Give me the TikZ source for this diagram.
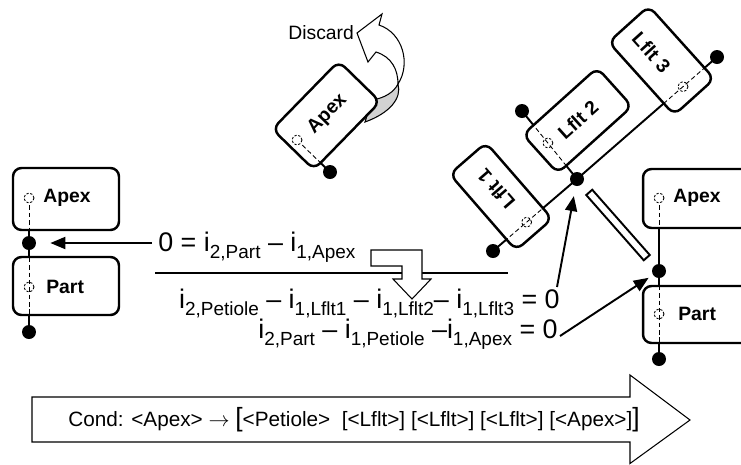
\documentclass[tikz,border=0pt]{standalone}
\usepackage{fontspec}
\setmainfont{Liberation Sans}
\usetikzlibrary{arrows.meta,calc}
\newcommand\eqsub[1]{\raisebox{-0.5ex}{\fontsize{10.8}{12}\selectfont #1}}
\begin{document}
\begin{tikzpicture}[x=0.02cm,y=-0.02cm,
  box/.style={draw, line width=1.4pt, rounded corners=0.17cm, fill=white, inner sep=0pt},
  lbl/.style={font=\fontsize{11}{13}\selectfont\bfseries, inner sep=0pt},
  jdot/.style={circle, fill=black, inner sep=0pt, minimum size=0.28cm},
  port/.style={circle, draw, fill=white, dash pattern=on 1.3pt off 1pt, line width=0.5pt, inner sep=0pt, minimum size=0.2cm},
  portn/.style={port, fill=none},
  conn/.style={line width=1.1pt},
  dsh/.style={line width=0.5pt, dash pattern=on 2.6pt off 1.6pt},
  arr/.style={line width=1.1pt, -{Triangle[length=0.3cm,width=0.24cm]}},
  eq/.style={font=\fontsize{15.3}{18}\selectfont, inner sep=0pt},
  thin/.style={line width=0.6pt},
]
\useasboundingbox (0,0) rectangle (741,464);
\clip (0,0) rectangle (741,464);

% ---------- coordinates
\coordinate (cAL) at (29,198);
\coordinate (dAL) at (29,243);
\coordinate (cPL) at (29,287);
\coordinate (dPL) at (29,332);
\coordinate (cAR) at (659,198);
\coordinate (D) at (659,271);
\coordinate (cPR) at (659,314);
\coordinate (dPR) at (659,359);
\coordinate (J) at (577,179);
\coordinate (d1) at (493,251);
\coordinate (c1) at ($(J)!0.6!(d1)$);
\coordinate (d2) at (522,111);
\coordinate (c2) at ($(d2)!0.47!(J)$);
\coordinate (d3) at (717,57);
\coordinate (c3) at ($(J)!0.757!(d3)$);
\coordinate (cX) at (297,140);
\coordinate (dX) at (330,172);

% ---------- solid connectors (under boxes)
\draw[conn] (cAL) -- (dPL);
\draw[conn] (cAR) -- (dPR);
\draw[conn] (d1) -- (J) -- (d3);
\draw[conn] (d2) -- (J);
\draw[conn] (cX) -- (dX);

% ---------- discard arrow
\draw[thin, fill=gray!35] (398,84) .. controls (402,98) and (390,113) .. (365,122) -- (372,100) .. controls (385,98) and (394,92) .. (398,84) -- cycle;
\draw[thin, fill=white] (357,33) -- (382,14) -- (379,25) .. controls (403,33) and (411,64) .. (398,84) .. controls (398,70) and (392,57) .. (376,52) -- (368,62) -- cycle;

% ---------- boxes
\node[box, minimum width=2.12cm, minimum height=1.24cm] (boxAL) at (66,199) {};
\node[box, minimum width=2.12cm, minimum height=1.16cm] (boxPL) at (66,286) {};
\node[box, minimum width=3.16cm, minimum height=1.18cm] (boxAR) at (722,198.5) {};
\node[box, minimum width=3.16cm, minimum height=1.14cm] (boxPR) at (722,314.5) {};
\node[box, rotate=131, minimum width=2.02cm, minimum height=0.96cm] (bL1) at (501,196.5) {};
\node[box, rotate=42, minimum width=2.0cm, minimum height=1.04cm] (bL2) at (577.5,120.5) {};
\node[box, rotate=-48, minimum width=1.96cm, minimum height=1.08cm] (bL3) at (661.5,60.5) {};
\node[box, rotate=45.7, minimum width=1.9cm, minimum height=1.16cm] (bX) at (326.3,115.4) {};
\node[draw, fill=white, line width=1.1pt, minimum width=1.74cm, minimum height=0.16cm, inner sep=0pt, rotate=-48.6] (pet) at ($(J)!0.5!(D)$) {};

% ---------- dashed parts inside boxes
\begin{scope}\clip[rounded corners=0.17cm] (boxAL.south west) rectangle (boxAL.north east); \draw[dsh] (cAL) -- (dAL);\end{scope}
\begin{scope}\clip[rounded corners=0.17cm] (boxPL.south west) rectangle (boxPL.north east); \draw[dsh] (dAL) -- (dPL);\end{scope}
\begin{scope}\clip[rounded corners=0.17cm] (boxAR.south west) rectangle (boxAR.north east); \draw[dsh] (cAR) -- (D);\end{scope}
\begin{scope}\clip[rounded corners=0.17cm] (boxPR.south west) rectangle (boxPR.north east); \draw[dsh] (D) -- (dPR);\end{scope}
\begin{scope}\clip[rounded corners=0.17cm] (bL1.south west) -- (bL1.south east) -- (bL1.north east) -- (bL1.north west) -- cycle; \draw[dsh] (d1) -- (J);\end{scope}
\begin{scope}\clip[rounded corners=0.17cm] (bL2.south west) -- (bL2.south east) -- (bL2.north east) -- (bL2.north west) -- cycle; \draw[dsh] (d2) -- (J);\end{scope}
\begin{scope}\clip[rounded corners=0.17cm] (bL3.south west) -- (bL3.south east) -- (bL3.north east) -- (bL3.north west) -- cycle; \draw[dsh] (d3) -- (J);\end{scope}
\begin{scope}\clip[rounded corners=0.17cm] (bX.south west) -- (bX.south east) -- (bX.north east) -- (bX.north west) -- cycle; \draw[dsh] (cX) -- (dX);\end{scope}

% ---------- ports and dots
\node[port] (pAL) at (cAL) {};
\node[portn] (pPL) at (cPL) {};
\node[port] (pAR) at (cAR) {};
\node[portn] (pPR) at (cPR) {};
\node[portn] (p1) at (c1) {};
\node[portn] (p2) at (c2) {};
\node[portn] (p3) at (c3) {};
\node[port] (pX) at (cX) {};
\node[jdot] (nAL) at (dAL) {};
\node[jdot] (nPL) at (dPL) {};
\node[jdot] (nD) at (D) {};
\node[jdot] (nPR) at (dPR) {};
\node[jdot] (nJ) at (J) {};
\node[jdot] (n1) at (d1) {};
\node[jdot] (n2) at (d2) {};
\node[jdot] (n3) at (d3) {};
\node[jdot] (nX) at (dX) {};

% ---------- labels
\node[lbl, anchor=west] (tAL) at (43,198) {Apex};
\node[lbl, anchor=west] (tPL) at (46,287) {Part};
\node[lbl, anchor=west] (tAR) at (673,198) {Apex};
\node[lbl, anchor=west] (tPR) at (678,314) {Part};
\node[lbl, rotate=131] (tL1) at (496,189) {Lflt 1};
\node[lbl, rotate=42] (tL2) at (578,120) {Lflt 2};
\node[lbl, rotate=-48] (tL3) at (651.5,52.5) {Lflt 3};
\node[lbl, rotate=45.7] (tX) at (327.5,114) {Apex};
\node[anchor=west, font=\fontsize{11}{13}\selectfont, inner sep=0pt] (disc) at (288,33) {Discard};

% ---------- equations
\coordinate (hl1) at (155,273);
\coordinate (hl2) at (508,273);
\draw[line width=0.8pt] (hl1) -- (hl2);
\draw[thin, fill=white] (371,250) -- (422,250) -- (422,279) -- (431,279) -- (412,299) -- (393,279) -- (402,279) -- (402,266) -- (371,266) -- cycle;
\node[eq, anchor=base west] (eq1) at (158,251) {0 = i\eqsub{2,Part} – i\eqsub{1,Apex}};
\node[eq, anchor=base east] (eq2) at (560,308) {i\eqsub{2,Petiole} – i\eqsub{1,Lflt1} – i\eqsub{1,Lflt2}– i\eqsub{1,Lflt3} = 0};
\node[eq, anchor=base east] (eq3) at (558,338) {i\eqsub{2,Part} – i\eqsub{1,Petiole} –i\eqsub{1,Apex} = 0};

% ---------- pointer arrows
\coordinate (a1s) at (152,243);
\draw[arr, shorten >=0.28cm] (a1s) -- (nAL);
\coordinate (a2s) at (557,287);
\draw[arr, shorten >=0.2cm] (a2s) -- (nJ);
\coordinate (a3s) at (560,336);
\draw[arr, shorten >=0.1cm] (a3s) -- (nD);

% ---------- condition arrow
\draw[thin] (32,397) -- (630,397) -- (630,375) -- (690,420) -- (630,463.5) -- (630,442) -- (32,442) -- cycle;
\node[anchor=west, font=\fontsize{11.8}{14}\selectfont, inner sep=0pt] (cond) at (68,420) {Cond: <Apex> $\rightarrow$ {\fontsize{15}{15}\selectfont[}<Petiole>\ \ [<Lflt>] [<Lflt>] [<Lflt>] [<Apex>]{\fontsize{15}{15}\selectfont]}};
\end{tikzpicture}
\end{document}
